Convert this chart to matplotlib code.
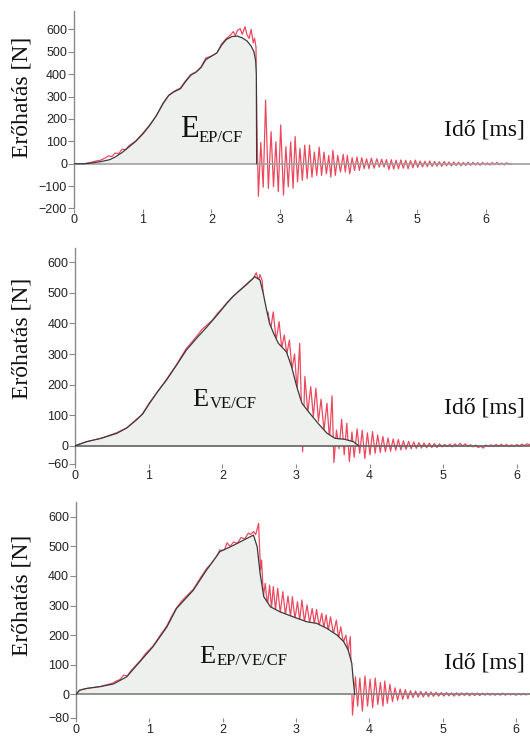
import matplotlib.pyplot as plt
import numpy as np

# ---- data (time in ms, force in N) ----
x_ticks = [0, 1, 2, 3, 4, 5, 6]

# panel 1: EP/CF
p1_curve_t = [0, 0.15, 0.25, 0.4, 0.52, 0.6, 0.7, 0.8, 0.9, 1.0, 1.1, 1.2, 1.3, 1.38, 1.45, 1.55,
              1.62, 1.7, 1.78, 1.85, 1.92, 2.0, 2.08, 2.15, 2.22, 2.3, 2.38, 2.45, 2.52, 2.58, 2.62,
              2.645, 2.655, 2.66]
p1_curve_f = [0, 0, 3, 10, 18, 30, 50, 75, 100, 132, 170, 215, 270, 305, 320, 335,
              365, 395, 410, 430, 465, 480, 495, 530, 555, 568, 570, 562, 548, 525, 500,
              460, 400, 0]
p1_red_rise = [(0, 0), (0.15, 0), (0.25, 6), (0.32, 12), (0.38, 15), (0.45, 25), (0.5, 35),
               (0.55, 32), (0.6, 48), (0.65, 45), (0.7, 65), (0.75, 62), (0.8, 80), (0.9, 102),
               (1.0, 135), (1.1, 172), (1.2, 214), (1.3, 272), (1.38, 306), (1.45, 322),
               (1.55, 338), (1.62, 368), (1.7, 398), (1.78, 410), (1.85, 432), (1.92, 472),
               (2.0, 480), (2.08, 492), (2.15, 535), (2.22, 560), (2.28, 575), (2.32, 590),
               (2.35, 572), (2.38, 596), (2.42, 603), (2.45, 578), (2.49, 612), (2.52, 575),
               (2.55, 560), (2.58, 600), (2.61, 540), (2.63, 560), (2.65, 520)]
p1_red_osc = [(2.662, 200), (2.685, -145), (2.72, 95), (2.755, -105), (2.79, 284), (2.83, -110),
              (2.87, 143), (2.905, -103), (2.94, 98), (2.975, -125), (3.01, 173), (3.05, -140),
              (3.085, 76), (3.12, -103), (3.155, 98), (3.19, -110), (3.22, 121), (3.255, -81),
              (3.29, 69), (3.325, -74), (3.36, 83), (3.395, -67), (3.43, 83), (3.465, -60),
              (3.5, 52), (3.535, -52), (3.57, 74), (3.605, -52), (3.64, 52), (3.675, -45),
              (3.71, 37), (3.74, -60), (3.77, 60), (3.805, -52), (3.84, 37), (3.88, -37),
              (3.92, 42), (3.95, -37), (3.98, 37), (4.015, -45), (4.05, 27), (4.085, -30),
              (4.12, 30), (4.155, -30), (4.19, 27), (4.225, -22), (4.26, 22), (4.295, -22),
              (4.33, 25), (4.37, -20), (4.41, 22), (4.445, -15), (4.48, 20), (4.515, -15),
              (4.55, 18), (4.585, -26), (4.62, 18), (4.655, -24), (4.69, 16), (4.725, -22),
              (4.76, 17), (4.795, -20), (4.83, 15), (4.865, -22), (4.9, 14), (4.935, -18),
              (4.97, 16), (5.005, -16), (5.04, 12), (5.075, -14), (5.11, 11), (5.145, -13),
              (5.18, 12), (5.215, -12), (5.25, 10), (5.285, -11), (5.32, 9), (5.355, -12),
              (5.39, 10), (5.425, -9), (5.46, 8), (5.495, -10), (5.53, 8), (5.565, -8),
              (5.6, 7), (5.635, -9), (5.67, 6), (5.705, -8), (5.74, 7), (5.775, -7),
              (5.81, 6), (5.845, -6), (5.88, 5), (5.915, -7), (5.95, 6), (5.985, -5),
              (6.02, 4), (6.055, -6), (6.09, 5), (6.125, -4), (6.16, 6), (6.195, -4),
              (6.23, 3), (6.265, -5), (6.3, 4), (6.335, -2), (6.37, 0)]

# panel 2: VE/CF
p2_curve_t = [0, 0.155, 0.35, 0.56, 0.7, 0.83, 0.92, 1.01, 1.12, 1.24, 1.38, 1.51, 1.65, 1.79,
              1.93, 2.06, 2.15, 2.24, 2.34, 2.44, 2.51, 2.555, 2.6, 2.64, 2.7, 2.76, 2.87, 2.94,
              3.01, 3.08, 3.17, 3.3, 3.42, 3.53, 3.66, 3.78, 3.85]
p2_curve_f = [0, 13, 24, 40, 58, 84, 105, 139, 177, 215, 265, 313, 352, 389,
              428, 466, 490, 509, 530, 553, 542, 498, 444, 400, 365, 335, 307, 258,
              193, 139, 111, 73, 41, 24, 21, 13, 0]
p2_red_rise = [(0, 0), (0.155, 13), (0.35, 24), (0.56, 42), (0.7, 58), (0.83, 86), (0.9, 100),
               (0.95, 118), (1.01, 141), (1.12, 177), (1.24, 217), (1.38, 267), (1.5, 315),
               (1.58, 338), (1.65, 358), (1.72, 380), (1.79, 395), (1.86, 410), (1.93, 432),
               (2.0, 450), (2.06, 468), (2.15, 490), (2.24, 510), (2.34, 532), (2.42, 548),
               (2.46, 566), (2.49, 540), (2.51, 560), (2.54, 540), (2.58, 420)]
p2_red_osc = [(2.62, 438), (2.655, 380), (2.69, 438), (2.73, 345), (2.77, 406), (2.805, 320),
              (2.84, 362), (2.875, 300), (2.91, 346), (2.945, 250), (2.98, 300), (3.015, 180),
              (3.05, 335), (3.09, -20), (3.12, 226), (3.16, 110), (3.2, 193), (3.235, 95),
              (3.27, 188), (3.305, 80), (3.34, 152), (3.38, 50), (3.42, 139), (3.455, 20),
              (3.49, 163), (3.515, -55), (3.55, 51), (3.585, -10), (3.62, 86), (3.655, -30),
              (3.69, 73), (3.725, -52), (3.76, 45), (3.79, -38), (3.83, 55), (3.865, -25),
              (3.9, 50), (3.935, -42), (3.97, 42), (4.005, -30), (4.04, 46), (4.075, -25),
              (4.11, 35), (4.145, -22), (4.18, 30), (4.215, -20), (4.25, 25), (4.285, -18),
              (4.32, 22), (4.355, -15), (4.39, 20), (4.425, -14), (4.46, 16), (4.495, -12),
              (4.53, 14), (4.565, -10), (4.6, 12), (4.635, -9), (4.67, 10), (4.705, -8),
              (4.74, 9), (4.775, -7), (4.81, 8), (4.845, -6), (4.88, 7), (4.915, -6),
              (4.95, 6), (4.985, -4), (5.02, 4), (5.055, -3), (5.09, 5), (5.125, -4),
              (5.16, 6), (5.195, -2), (5.23, 8), (5.265, -1), (5.3, 6), (5.335, -3),
              (5.37, 3), (5.405, -4), (5.44, 2), (5.475, -6), (5.51, -2), (5.545, -8),
              (5.58, 2), (5.615, -3), (5.65, 3), (5.685, -2), (5.72, 4), (5.755, -3),
              (5.79, 5), (5.825, -2), (5.86, 4), (5.895, -3), (5.93, 3), (5.965, -2),
              (6.0, 4), (6.035, -1), (6.07, 5), (6.105, 0), (6.14, 6), (6.18, 3)]

# panel 3: EP/VE/CF
p3_curve_t = [0, 0.05, 0.15, 0.33, 0.51, 0.69, 0.87, 1.05, 1.24, 1.37, 1.6, 1.78, 1.96, 2.15,
              2.33, 2.42, 2.47, 2.51, 2.56, 2.65, 2.78, 2.96, 3.15, 3.28, 3.42, 3.56, 3.65, 3.71,
              3.76, 3.78, 3.8]
p3_curve_f = [0, 14, 20, 26, 35, 59, 110, 161, 228, 290, 352, 420, 482, 504,
              527, 538, 499, 409, 330, 296, 279, 262, 245, 240, 223, 200, 178, 150,
              105, 48, 0]
p3_red_rise = [(0, 0), (0.05, 14), (0.15, 20), (0.33, 26), (0.5, 38), (0.55, 45), (0.6, 50),
               (0.65, 65), (0.7, 62), (0.75, 80), (0.87, 112), (0.95, 138), (1.05, 163),
               (1.15, 200), (1.24, 232), (1.3, 262), (1.37, 292), (1.45, 318), (1.6, 355),
               (1.7, 395), (1.78, 425), (1.84, 440), (1.9, 455), (1.96, 488), (2.02, 485),
               (2.06, 512), (2.1, 500), (2.15, 515), (2.2, 510), (2.25, 530), (2.3, 525),
               (2.35, 545), (2.38, 540), (2.42, 550), (2.45, 540), (2.49, 578)]
p3_red_osc = [(2.515, 420), (2.53, 454), (2.555, 330), (2.58, 375), (2.61, 300), (2.64, 369),
              (2.665, 290), (2.69, 364), (2.72, 285), (2.75, 358), (2.785, 275), (2.82, 347),
              (2.855, 268), (2.89, 332), (2.925, 262), (2.95, 330), (2.985, 255), (3.02, 313),
              (3.05, 250), (3.08, 319), (3.115, 245), (3.15, 302), (3.185, 242), (3.22, 290),
              (3.25, 238), (3.28, 287), (3.315, 230), (3.35, 274), (3.38, 225), (3.41, 268),
              (3.44, 215), (3.47, 262), (3.51, 205), (3.55, 251), (3.58, 190), (3.61, 228),
              (3.645, 175), (3.68, 200), (3.71, 145), (3.74, 195), (3.77, -70), (3.81, 59),
              (3.84, -40), (3.87, 55), (3.905, -57), (3.94, 62), (3.975, -40), (4.01, 51),
              (4.045, -45), (4.08, 55), (4.115, -34), (4.15, 40), (4.185, -40), (4.21, 45),
              (4.245, -30), (4.28, 34), (4.315, -25), (4.35, 22), (4.385, -20), (4.42, 18),
              (4.455, -17), (4.49, 16), (4.525, -15), (4.56, 12), (4.595, -11), (4.63, 11),
              (4.665, -10), (4.7, 10), (4.735, -9), (4.77, 9), (4.805, -8), (4.84, 8),
              (4.875, -7), (4.91, 7), (4.945, -6), (4.98, 6), (5.015, -6), (5.05, 6),
              (5.085, -5), (5.12, 5), (5.155, -6), (5.19, 5), (5.225, -5), (5.26, 5),
              (5.295, -4), (5.33, 5), (5.365, -5), (5.4, 4), (5.435, -4), (5.47, 4),
              (5.505, -4), (5.54, 4), (5.575, -3), (5.61, 4), (5.645, -3), (5.68, 3),
              (5.715, -3), (5.75, 3), (5.785, -3), (5.82, 4), (5.855, -3), (5.89, 3),
              (5.925, -2), (5.96, 3), (5.995, -3), (6.03, 3), (6.065, -2), (6.1, 3),
              (6.135, -2), (6.17, 2), (6.2, 0)]

# ---- figure ----
W, H = 530, 738
fig = plt.figure(figsize=(W / 100, H / 100), dpi=100)
serif = ['Liberation Serif', 'DejaVu Serif']
sans = ['Liberation Sans', 'DejaVu Sans']

panels = [
    dict(left=74, top=11, bottom=208.5, xmax=6.64, ylim=(-200, 682),
         yticks=[-200, -100, 0, 100, 200, 300, 400, 500, 600],
         curve=(p1_curve_t, p1_curve_f), red=p1_red_rise + p1_red_osc, zc='#a0a0a0',
         e_pos=(180, 137), e_size=22, sub='EP/CF', sub_pos=(199, 141.5),
         ylab_y=97, ido_y=130),
    dict(left=75.3, top=248, bottom=464, xmax=6.18, ylim=(-60, 647),
         yticks=[-60, 0, 100, 200, 300, 400, 500, 600],
         curve=(p2_curve_t, p2_curve_f), red=p2_red_rise + p2_red_osc, zc='#606060',
         e_pos=(192, 406.5), e_size=19, sub='VE/CF', sub_pos=(210, 408),
         ylab_y=338, ido_y=408),
    dict(left=76, top=502, bottom=718, xmax=6.19, ylim=(-80, 650),
         yticks=[-80, 0, 100, 200, 300, 400, 500, 600],
         curve=(p3_curve_t, p3_curve_f), red=p3_red_rise + p3_red_osc, zc='#808080',
         e_pos=(199, 663), e_size=19, sub='EP/VE/CF', sub_pos=(217, 665),
         ylab_y=595, ido_y=663),
]

for p in panels:
    ax = fig.add_axes([p['left'] / W, 1 - p['bottom'] / H,
                       (W - p['left']) / W, (p['bottom'] - p['top']) / H])
    ax.set_xlim(0, p['xmax'])
    ax.set_ylim(*p['ylim'])

    # measured signal (red), drawn under the filled energy area
    rt, rf = zip(*p['red'])
    ax.plot(rt, rf, color='#e82a42', lw=0.9, alpha=0.85, zorder=2)

    ct, cf = p['curve']
    ax.fill_between(ct, cf, 0, color='#eef0ee', lw=0, zorder=3)
    ax.axhline(0, color=p['zc'], lw=1.2, zorder=3.5)
    ax.plot(ct, cf, color='#3a3a3a', lw=0.9, zorder=4)

    for s in ['top', 'right', 'bottom']:
        ax.spines[s].set_visible(False)
    ax.spines['left'].set_color('#8a8a8a')
    ax.spines['left'].set_linewidth(1.0)

    ax.set_xticks(x_ticks)
    ax.set_yticks(p['yticks'])
    ax.tick_params(axis='y', direction='out', length=4, width=0.8, color='#8a8a8a',
                   labelsize=9, labelcolor='#222222', pad=1)
    ax.tick_params(axis='x', direction='out', length=3, width=0.8, color='#8a8a8a',
                   labelsize=9, labelcolor='#222222', pad=1)
    for lab in ax.get_xticklabels() + ax.get_yticklabels():
        lab.set_family(sans)

    fig.text(22 / W, 1 - p['ylab_y'] / H, 'Erőhatás [N]', rotation=90, ha='center',
             va='center', fontsize=17, family=serif, color='#111111')
    fig.text(525 / W, 1 - p['ido_y'] / H, 'Idő [ms]', ha='right', va='center',
             fontsize=17, family=serif, color='#111111')
    fig.text(p['e_pos'][0] / W, 1 - p['e_pos'][1] / H, 'E', ha='left', va='baseline',
             fontsize=p['e_size'], family=serif, color='#111111', zorder=5)
    fig.text(p['sub_pos'][0] / W, 1 - p['sub_pos'][1] / H, p['sub'], ha='left',
             va='baseline', fontsize=12, family=serif, color='#111111', zorder=5)

fig.savefig('out.png', dpi=100)
